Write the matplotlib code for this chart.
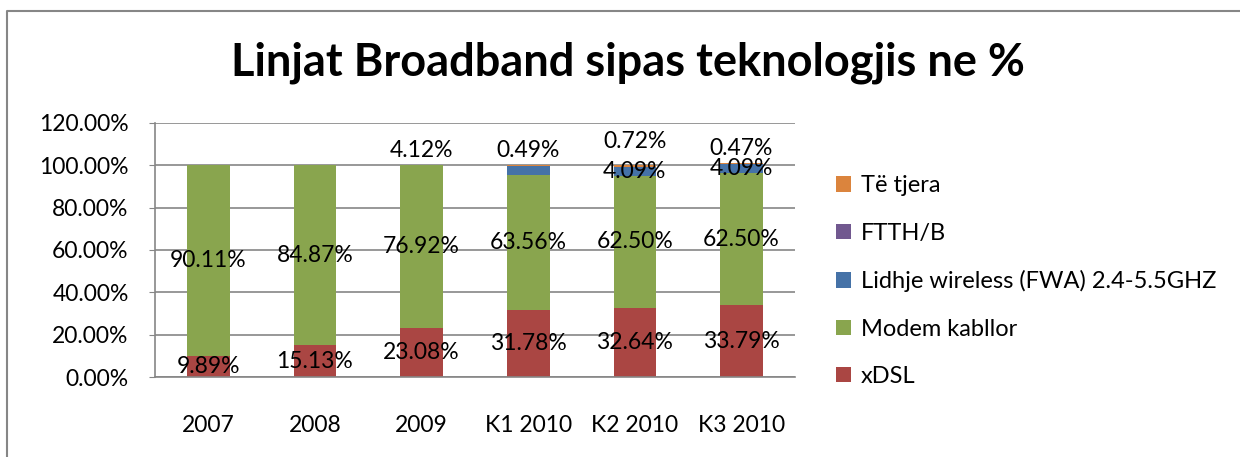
import matplotlib
matplotlib.use("Agg")
import numpy as np
import matplotlib.pyplot as plt
from matplotlib.lines import Line2D

plt.rcParams['font.family'] = ['Lato', 'DejaVu Sans']

# Data (percent)
categories = ["2007", "2008", "2009", "K1 2010", "K2 2010", "K3 2010"]
xdsl = [9.89, 15.13, 23.08, 31.78, 32.64, 33.79]
modem = [90.11, 84.87, 76.92, 63.56, 62.50, 62.50]
wireless = [0, 0, 0, 4.12, 4.09, 4.09]
ftth = [0, 0, 0, 0, 0, 0]
other = [0, 0, 0, 0.49, 0.72, 0.47]
yticks = [0, 20, 40, 60, 80, 100, 120]

series = [
    ("xDSL", xdsl, "#AA4643"),
    ("Modem kabllor", modem, "#89A54E"),
    ("Lidhje wireless (FWA) 2.4-5.5GHZ", wireless, "#4572A7"),
    ("FTTH/B", ftth, "#71588F"),
    ("Të tjera", other, "#DB843D"),
]

FS = 16.5

fig = plt.figure(figsize=(12.4, 4.57), dpi=100)
ax = fig.add_axes([0.125, 0.175, 0.516, 0.556])

x = np.arange(len(categories))
bottom = np.zeros(len(categories))
handles = []
for name, vals, color in series:
    vals = np.array(vals, dtype=float)
    b = ax.bar(x, vals, 0.4, bottom=bottom, color=color, label=name, zorder=2)
    handles.append(b)
    # data labels
    for i, v in enumerate(vals):
        if v <= 0:
            continue
        if name == "Të tjera":
            off = 11.5 if i == 4 else 7
            ax.text(x[i], bottom[i] + v + off, f"{v:.2f}%", ha="center", va="center", fontsize=FS)
        elif name.startswith("Lidhje") and i == 3:
            # this label sits over the 2009 column in the original
            ax.text(x[2], 107, f"{v:.2f}%", ha="center", va="center", fontsize=FS)
        else:
            ax.text(x[i], bottom[i] + v / 2, f"{v:.2f}%", ha="center", va="center", fontsize=FS)
    bottom += vals

ax.set_xlim(-0.5, len(categories) - 0.5)
ax.set_ylim(0, 120)
ax.set_yticks(yticks)
ax.set_yticklabels([f"{t:.2f}%" for t in yticks], fontsize=FS)
ax.set_xticks(x)
ax.set_xticklabels(categories, fontsize=FS)
ax.tick_params(axis="x", length=0, pad=27)
ax.tick_params(axis="y", length=4, color="#868686", pad=15)
ax.grid(axis="y", color="#868686", linewidth=1.2, zorder=0)
for s in ["top", "right"]:
    ax.spines[s].set_visible(False)
for s in ["left", "bottom"]:
    ax.spines[s].set_color("#868686")
    ax.spines[s].set_linewidth(1.2)

fig.text(0.506, 0.862, "Linjat Broadband sipas teknologjis ne %", ha="center", va="center",
         fontsize=32.5, fontweight="bold")

fig.legend(handles[::-1], [s[0] for s in series][::-1], loc="upper left",
           bbox_to_anchor=(0.657, 0.663), frameon=False, fontsize=17,
           handlelength=0.62, handleheight=0.62, handletextpad=0.45, labelspacing=1.12)

# outer chart border (left and top edges visible)
fig.add_artist(Line2D([7 / 1240, 7 / 1240, 1.0], [0.0, 1 - 11 / 457, 1 - 11 / 457],
                      transform=fig.transFigure, color="#868686", linewidth=1.5))

fig.savefig("out.png", dpi=100)
